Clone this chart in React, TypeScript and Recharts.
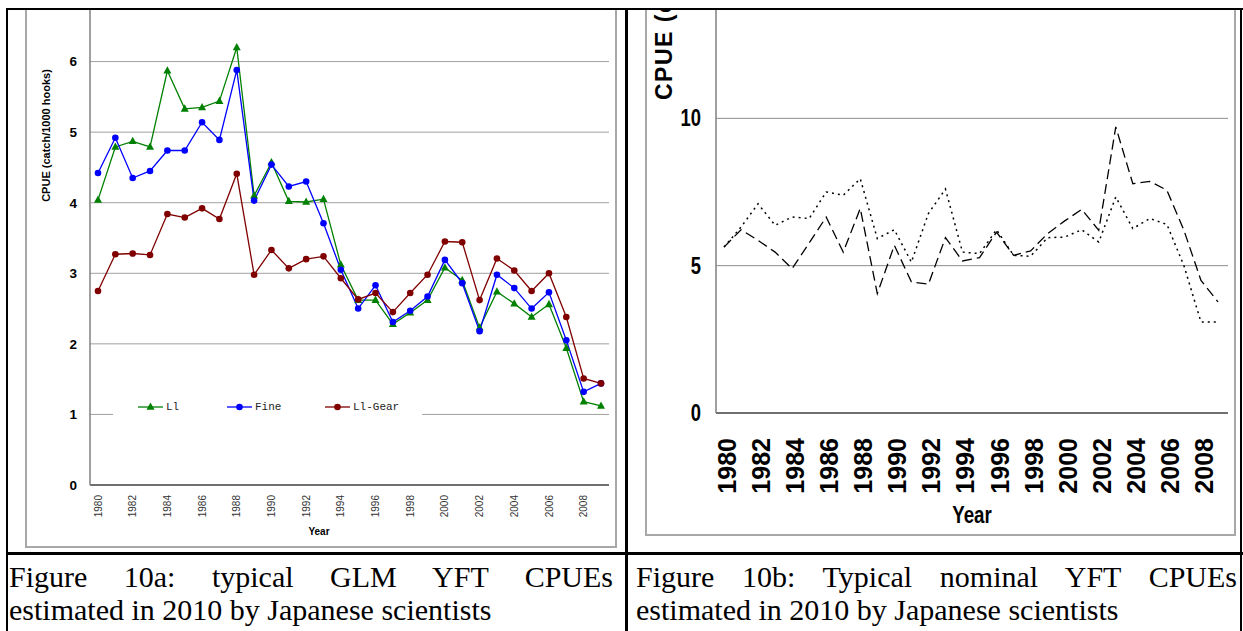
import { CartesianGrid, Legend, Line, LineChart, XAxis, YAxis } from "recharts";

const years = [
  "1980", "1981", "1982", "1983", "1984", "1985", "1986", "1987", "1988", "1989",
  "1990", "1991", "1992", "1993", "1994", "1995", "1996", "1997", "1998", "1999",
  "2000", "2001", "2002", "2003", "2004", "2005", "2006", "2007", "2008", "2009",
];

// Figure 10a: GLM standardised CPUE
const llCpue = [
  4.04, 4.79, 4.87, 4.79, 5.87, 5.33, 5.35, 5.44, 6.2, 4.1,
  4.57, 4.02, 4.01, 4.05, 3.12, 2.62, 2.62, 2.28, 2.44, 2.62,
  3.08, 2.9, 2.23, 2.74, 2.57, 2.38, 2.56, 1.94, 1.18, 1.12,
];
const fineCpue = [
  4.42, 4.92, 4.35, 4.45, 4.74, 4.74, 5.14, 4.89, 5.88, 4.03,
  4.54, 4.23, 4.3, 3.71, 3.05, 2.5, 2.83, 2.31, 2.47, 2.67,
  3.19, 2.86, 2.18, 2.98, 2.79, 2.5, 2.73, 2.05, 1.32, 1.44,
];
const llGearCpue = [
  2.75, 3.27, 3.28, 3.26, 3.84, 3.79, 3.92, 3.77, 4.41, 2.98,
  3.33, 3.07, 3.2, 3.24, 2.93, 2.63, 2.72, 2.45, 2.72, 2.98,
  3.45, 3.44, 2.62, 3.21, 3.04, 2.75, 3.0, 2.38, 1.51, 1.44,
];
const glmTicks = [0, 1, 2, 3, 4, 5, 6, 7];

// Figure 10b: nominal CPUE
const nominalDashed = [
  5.63, 6.22, 5.86, 5.46, 4.9, 5.77, 6.65, 5.46, 6.94, 4.05,
  5.69, 4.45, 4.37, 5.95, 5.16, 5.27, 6.14, 5.35, 5.5, 6.09,
  6.52, 6.91, 6.2, 9.71, 7.78, 7.86, 7.56, 6.2, 4.5, 3.77,
];
const nominalDotted = [
  5.63, 6.31, 7.1, 6.37, 6.65, 6.6, 7.5, 7.39, 7.95, 5.92,
  6.22, 5.12, 6.77, 7.6, 5.46, 5.41, 6.22, 5.35, 5.32, 5.95,
  5.97, 6.22, 5.8, 7.33, 6.26, 6.6, 6.4, 5.0, 3.09, 3.09,
];
const nominalTicks = [0, 5, 10, 15];

const glmData = years.map((year, i) => ({
  year,
  ll: llCpue[i],
  fine: fineCpue[i],
  gear: llGearCpue[i],
}));
const nominalData = years.map((year, i) => ({
  year,
  dashed: nominalDashed[i],
  dotted: nominalDotted[i],
}));

const SANS = "'Liberation Sans', Arial, sans-serif";
const SERIF = "'Liberation Serif', 'Times New Roman', serif";

const GREEN = "#008000";
const BLUE = "#0000ff";
const RED = "#800000";

const TriangleDot = (props: any) => {
  const { cx, cy } = props;
  if (cx == null || cy == null) return <g key={props.key} />;
  return (
    <polygon
      key={props.key}
      points={`${cx},${cy - 4.5} ${cx + 4},${cy + 2.8} ${cx - 4},${cy + 2.8}`}
      fill={GREEN}
    />
  );
};

const GlmYearTick = ({ x, y, payload }: any) => (
  <text
    transform={`translate(${x + 3.6},${y + 10}) rotate(-90)`}
    textAnchor="end"
    fontSize={10}
    fill="#333"
    fontFamily={SANS}
  >
    {payload.value}
  </text>
);

const GlmValueTick = ({ x, y, payload }: any) => (
  <text x={x - 13} y={y} dy={4.8} textAnchor="end" fontSize={13.5} fontWeight="bold" fontFamily={SANS} fill="#000">
    {payload.value}
  </text>
);

const NominalYearTick = ({ x, y, payload }: any) => (
  <text
    transform={`translate(${x + 12},${y + 25}) rotate(-90)`}
    textAnchor="end"
    fontSize={25}
    fontWeight="bold"
    fill="#000"
    fontFamily={SANS}
  >
    {payload.value}
  </text>
);

// narrow bold look: squeeze the text horizontally
const NominalValueTick = ({ x, y, payload }: any) => (
  <text
    transform={`translate(${x - 15},${y + 8}) scale(0.8,1)`}
    textAnchor="end"
    fontSize={23}
    fontWeight="bold"
    fontFamily={SANS}
    fill="#000"
  >
    {payload.value}
  </text>
);

const legendItems = [
  { name: "Ll", color: GREEN, shape: "triangle", left: 25 },
  { name: "Fine", color: BLUE, shape: "circle", left: 114 },
  { name: "Ll-Gear", color: RED, shape: "circle", left: 212 },
];

const GlmLegend = () => (
  <div style={{ position: "relative", width: 309, height: 24, background: "#fff" }}>
    {legendItems.map((item) => (
      <div key={item.name} style={{ position: "absolute", left: item.left, top: 0, height: 24 }}>
        <svg width={26} height={24} style={{ position: "absolute", left: 0, top: 0 }}>
          <line x1={0} y1={12} x2={25} y2={12} stroke={item.color} strokeWidth={1.3} />
          {item.shape === "triangle" ? (
            <polygon points="12.5,7.5 16.5,14.8 8.5,14.8" fill={item.color} />
          ) : (
            <circle cx={12.5} cy={12} r={3.3} fill={item.color} />
          )}
        </svg>
        <span
          style={{
            position: "absolute",
            left: 28,
            top: 5,
            fontFamily: "'Liberation Mono', 'Courier New', monospace",
            fontSize: 11,
            lineHeight: "14px",
            color: "#222",
            whiteSpace: "nowrap",
          }}
        >
          {item.name}
        </span>
      </div>
    ))}
  </div>
);

const GlmChart = () => (
  <LineChart width={592} height={580} data={glmData} margin={{ top: 21, right: 8, bottom: 0, left: 0 }}>
    <CartesianGrid horizontal vertical={false} stroke="#a0a0a0" strokeWidth={1} />
    <XAxis
      dataKey="year"
      height={65}
      interval={1}
      padding={{ left: 8, right: 8 }}
      tickSize={0}
      tickMargin={0}
      tickLine={false}
      axisLine={{ stroke: "#707070", strokeWidth: 2 }}
      tick={<GlmYearTick />}
      label={() => (
        <text x={294} y={565} textAnchor="middle" fontSize={10} fontWeight="bold" fontFamily={SANS} fill="#000">
          Year
        </text>
      )}
    />
    <YAxis
      width={65}
      domain={[0, 7]}
      ticks={glmTicks}
      tickSize={0}
      tickMargin={0}
      tickLine={false}
      axisLine={{ stroke: "#808080", strokeWidth: 1.5 }}
      tick={<GlmValueTick />}
      label={() => (
        <text
          transform="translate(24.6,165.5) rotate(-90)"
          textAnchor="middle"
          fontSize={11}
          fontWeight="bold"
          fontFamily={SANS}
          fill="#000"
        >
          CPUE (catch/1000 hooks)
        </text>
      )}
    />
    <YAxis
      yAxisId="frame"
      orientation="right"
      width={0}
      domain={[0, 7]}
      tick={false}
      tickLine={false}
      axisLine={{ stroke: "#404040", strokeWidth: 1.5 }}
    />
    <Legend
      verticalAlign="middle"
      align="center"
      content={() => <GlmLegend />}
      wrapperStyle={{ position: "absolute", left: 88, top: 425, width: 309, height: 24 }}
    />
    <Line dataKey="ll" name="Ll" stroke={GREEN} strokeWidth={1.3} dot={TriangleDot} isAnimationActive={false} />
    <Line
      dataKey="fine"
      name="Fine"
      stroke={BLUE}
      strokeWidth={1.3}
      dot={{ r: 3.3, fill: BLUE, stroke: "none" }}
      isAnimationActive={false}
    />
    <Line
      dataKey="gear"
      name="Ll-Gear"
      stroke={RED}
      strokeWidth={1.3}
      dot={{ r: 3.3, fill: RED, stroke: "none" }}
      isAnimationActive={false}
    />
  </LineChart>
);

const NominalChart = () => (
  <LineChart width={591} height={576} data={nominalData} margin={{ top: 11, right: 8, bottom: 0, left: 0 }}>
    <CartesianGrid horizontal vertical={false} stroke="#8c8c8c" strokeWidth={1} />
    <XAxis
      dataKey="year"
      height={123}
      interval={1}
      padding={{ left: 8, right: 10 }}
      tickSize={0}
      tickMargin={0}
      tickLine={false}
      axisLine={{ stroke: "#707070", strokeWidth: 2 }}
      tick={<NominalYearTick />}
      label={() => (
        <text
          transform="translate(327,563) scale(0.78,1)"
          textAnchor="middle"
          fontSize={24}
          fontWeight="bold"
          fontFamily={SANS}
          fill="#000"
        >
          Year
        </text>
      )}
    />
    <YAxis
      width={71}
      domain={[0, 15]}
      ticks={nominalTicks}
      tickSize={0}
      tickMargin={0}
      tickLine={false}
      axisLine={{ stroke: "#808080", strokeWidth: 1.5 }}
      tick={<NominalValueTick />}
      label={() => (
        <text
          transform="translate(27,140) rotate(-90)"
          textAnchor="start"
          fontSize={23}
          fontWeight="bold"
          fontFamily={SANS}
          letterSpacing={1.5}
          fill="#000"
        >
          CPUE (catch/1000 hooks)
        </text>
      )}
    />
    <YAxis
      yAxisId="frame"
      orientation="right"
      width={0}
      domain={[0, 15]}
      tick={false}
      tickLine={false}
      axisLine={{ stroke: "#303030", strokeWidth: 2 }}
    />
    <Line
      dataKey="dashed"
      stroke="#000"
      strokeWidth={1.3}
      strokeDasharray="10 5"
      dot={false}
      isAnimationActive={false}
    />
    <Line
      dataKey="dotted"
      stroke="#000"
      strokeWidth={1.5}
      strokeDasharray="2 4"
      dot={false}
      isAnimationActive={false}
    />
  </LineChart>
);

const black = "#000";

const Caption = ({ left, top, width, first, second }: any) => (
  <div
    style={{
      position: "absolute",
      left,
      top,
      width,
      fontFamily: SERIF,
      fontSize: 30,
      lineHeight: "33px",
      color: "#000",
    }}
  >
    <div style={{ textAlign: "justify", textAlignLast: "justify" }}>{first}</div>
    <div style={{ whiteSpace: "nowrap" }}>{second}</div>
  </div>
);

export default function App() {
  return (
    <div
      style={{
        position: "absolute",
        left: 0,
        top: 0,
        width: 1243,
        height: 631,
        overflow: "hidden",
        background: "#fff",
      }}
    >
      {/* left cell */}
      <div style={{ position: "absolute", left: 8, top: 10, width: 617, height: 542, overflow: "hidden" }}>
        <div
          style={{
            position: "absolute",
            left: 17,
            top: -20,
            width: 592,
            height: 558,
            boxSizing: "border-box",
            border: "2px solid #a8a8a8",
          }}
        />
        <div style={{ position: "absolute", left: 17, top: -40 }}>
          <GlmChart />
        </div>
      </div>

      {/* right cell */}
      <div style={{ position: "absolute", left: 628, top: 10, width: 612, height: 542, overflow: "hidden" }}>
        <div
          style={{
            position: "absolute",
            left: 17,
            top: -20,
            width: 591,
            height: 546,
            boxSizing: "border-box",
            border: "2px solid #a8a8a8",
          }}
        />
        <div style={{ position: "absolute", left: 17, top: -50 }}>
          <NominalChart />
        </div>
      </div>

      {/* table rules */}
      <div style={{ position: "absolute", left: 6, top: 8, width: 1237, height: 2, background: black }} />
      <div style={{ position: "absolute", left: 6, top: 8, width: 2, height: 623, background: black }} />
      <div style={{ position: "absolute", left: 625, top: 8, width: 3, height: 623, background: black }} />
      <div style={{ position: "absolute", left: 1240, top: 8, width: 2, height: 623, background: black }} />
      <div style={{ position: "absolute", left: 6, top: 552, width: 1237, height: 3, background: black }} />

      <Caption
        left={9}
        top={560}
        width={604}
        first="Figure 10a: typical GLM YFT CPUEs"
        second="estimated in 2010 by Japanese scientists"
      />
      <Caption
        left={636}
        top={560}
        width={601}
        first="Figure 10b: Typical nominal YFT CPUEs"
        second="estimated in 2010 by Japanese scientists"
      />
    </div>
  );
}
